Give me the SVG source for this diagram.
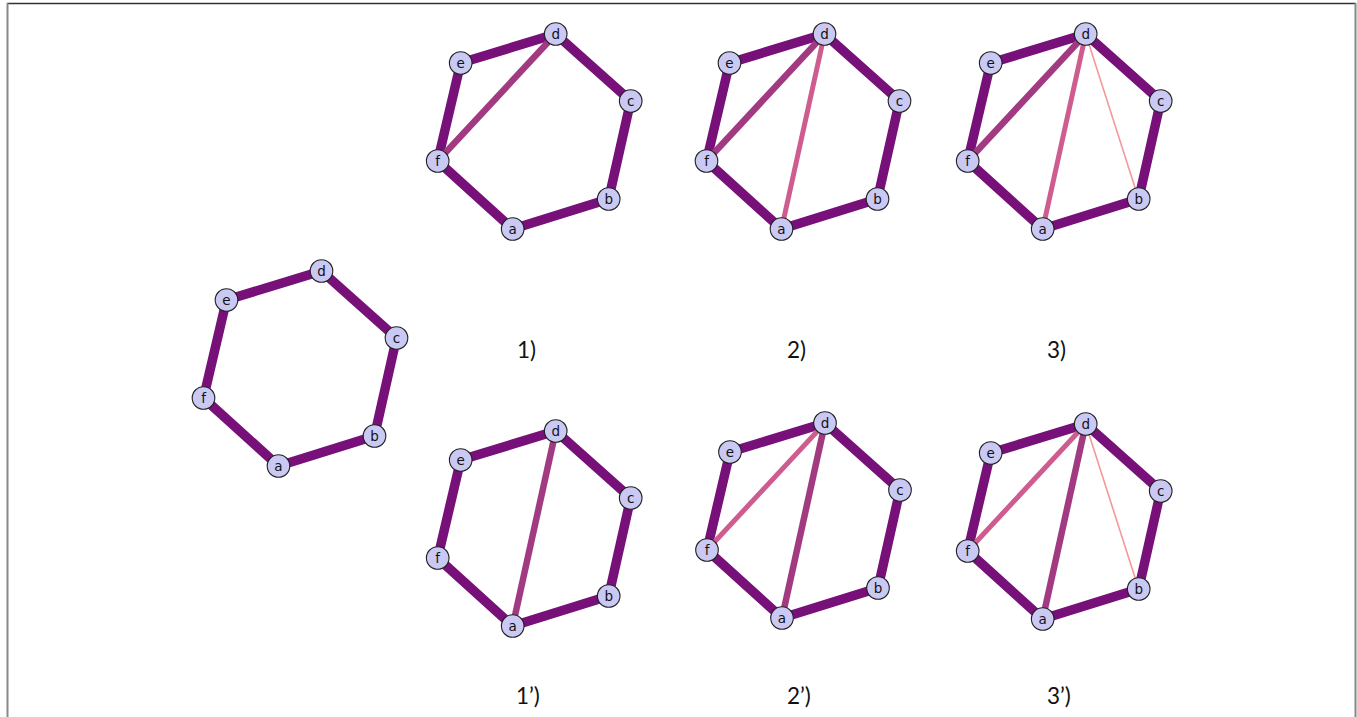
<svg xmlns="http://www.w3.org/2000/svg" xmlns:xlink="http://www.w3.org/1999/xlink" width="1357" height="717" viewBox="0 0 1357 717">
<style>
.o{stroke:#771078;stroke-width:9.5;stroke-linecap:butt;fill:none}
.m{stroke:#A23A82;stroke-width:6.5;fill:none}
.p{stroke:#CE5C8E;stroke-width:5;fill:none}
.s{stroke:#F4989A;stroke-width:1.6;fill:none}
.n circle{fill:#C9C9F4;stroke:#222;stroke-width:1.1}
.n text{font-family:"DejaVu Sans","Liberation Sans",sans-serif;font-size:13.5px;fill:#111;text-anchor:middle}
.lbl{font-family:Lato,"Open Sans",sans-serif;font-size:22.5px;fill:#111}
.frame{stroke:#888;stroke-width:2;fill:none}
</style>
<defs>
<path id="hex" class="o" d="M0,0 L-95,29 L-118,127 L-43,195 L53,165 L75,67 Z"/>
<g id="nodes" class="n">
<circle cx="0" cy="0" r="11.3"/><text x="0" y="5">d</text>
<circle cx="-95" cy="29" r="11.3"/><text x="-95" y="34">e</text>
<circle cx="75" cy="67" r="11.3"/><text x="75" y="72">c</text>
<circle cx="-118" cy="127" r="11.3"/><text x="-118" y="132">f</text>
<circle cx="53" cy="165" r="11.3"/><text x="53" y="170">b</text>
<circle cx="-43" cy="195" r="11.3"/><text x="-43" y="200">a</text>
</g>
</defs>
<rect width="1357" height="717" fill="#fff"/>
<g id="frame">
<line x1="7" y1="3.5" x2="1356" y2="3.5" stroke="#333" stroke-width="1.3"/>
<line class="frame" x1="7.5" y1="3" x2="7.5" y2="717"/>
<line class="frame" x1="1355.5" y1="3" x2="1355.5" y2="717"/>
</g>
<g id="connectors">
<use xlink:href="#hex" transform="translate(321.5,271)"/>
<g transform="translate(555.7,34)"><use xlink:href="#hex"/><line class="m" x1="0" y1="0" x2="-118" y2="127"/></g>
<g transform="translate(824.5,34)"><use xlink:href="#hex"/><line class="m" x1="0" y1="0" x2="-118" y2="127"/><line class="p" x1="0" y1="0" x2="-43" y2="195"/></g>
<g transform="translate(1085.7,34)"><use xlink:href="#hex"/><line class="m" x1="0" y1="0" x2="-118" y2="127"/><line class="p" x1="0" y1="0" x2="-43" y2="195"/><line class="s" x1="0" y1="0" x2="53" y2="165"/></g>
<g transform="translate(555.7,431)"><use xlink:href="#hex"/><line class="m" x1="0" y1="0" x2="-43" y2="195"/></g>
<g transform="translate(825,423)"><use xlink:href="#hex"/><line class="p" x1="0" y1="0" x2="-118" y2="127"/><line class="m" x1="0" y1="0" x2="-43" y2="195"/></g>
<g transform="translate(1085.7,424)"><use xlink:href="#hex"/><line class="p" x1="0" y1="0" x2="-118" y2="127"/><line class="m" x1="0" y1="0" x2="-43" y2="195"/><line class="s" x1="0" y1="0" x2="53" y2="165"/></g>
</g>
<use id="g0" xlink:href="#nodes" transform="translate(321.5,271)"/>
<use id="g1" xlink:href="#nodes" transform="translate(555.7,34)"/>
<use id="g2" xlink:href="#nodes" transform="translate(824.5,34)"/>
<use id="g3" xlink:href="#nodes" transform="translate(1085.7,34)"/>
<use id="g1p" xlink:href="#nodes" transform="translate(555.7,431)"/>
<use id="g2p" xlink:href="#nodes" transform="translate(825,423)"/>
<use id="g3p" xlink:href="#nodes" transform="translate(1085.7,424)"/>
<g id="labels">
<text class="lbl" x="517" y="358">1)</text>
<text class="lbl" x="787" y="358">2)</text>
<text class="lbl" x="1047" y="358">3)</text>
<text class="lbl" x="516" y="704">1’)</text>
<text class="lbl" x="787" y="704">2’)</text>
<text class="lbl" x="1047" y="704">3’)</text>
</g>
</svg>
